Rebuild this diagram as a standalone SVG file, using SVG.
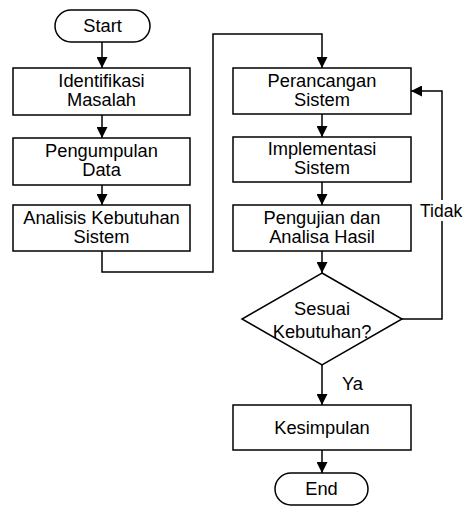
<svg xmlns="http://www.w3.org/2000/svg" width="463" height="507" viewBox="0 0 463 507">
<style>
.n{fill:#fff;stroke:#000;stroke-width:1.5}
.c{fill:none;stroke:#000;stroke-width:1.5}
text{font-family:"Liberation Sans",Arial,sans-serif;font-size:18.3px;fill:#000;text-anchor:middle}
.l{text-anchor:start}
</style>
<defs>
<marker id="a" viewBox="0 0 10 10" refX="10" refY="5" markerWidth="11" markerHeight="11" markerUnits="userSpaceOnUse" orient="auto">
<path d="M0,0 L10,5 L0,10 Z" fill="#000"/>
</marker>
</defs>
<g id="connectors">
<path class="c" d="M102,42 V68" marker-end="url(#a)"/>
<path class="c" d="M102,115 V138" marker-end="url(#a)"/>
<path class="c" d="M102,185 V205" marker-end="url(#a)"/>
<path class="c" d="M102,251 V272 H213 V34 H322 V68" marker-end="url(#a)"/>
<path class="c" d="M322,114 V137" marker-end="url(#a)"/>
<path class="c" d="M322,182 V205" marker-end="url(#a)"/>
<path class="c" d="M322,251 V273" marker-end="url(#a)"/>
<path class="c" d="M402,319 H442 V91 H411" marker-end="url(#a)"/>
<path class="c" d="M322,365 V405" marker-end="url(#a)"/>
<path class="c" d="M322,450 V473" marker-end="url(#a)"/>
<rect x="420" y="200" width="43" height="21" fill="#fff"/>
<text class="l" x="420" y="217" style="font-size:17.5px">Tidak</text>
<text class="l" x="342" y="390">Ya</text>
</g>
<g id="start"><rect class="n" x="55" y="10" width="95" height="32" rx="16"/><text x="102.5" y="32">Start</text></g>
<g id="identifikasi"><rect class="n" x="13" y="68" width="177" height="47"/><text x="101.5" y="87">Identifikasi</text><text x="101.5" y="106">Masalah</text></g>
<g id="pengumpulan"><rect class="n" x="13" y="138" width="177" height="47"/><text x="101.5" y="157">Pengumpulan</text><text x="101.5" y="176">Data</text></g>
<g id="analisis"><rect class="n" x="13" y="205" width="177" height="46"/><text x="101.5" y="224">Analisis Kebutuhan</text><text x="101.5" y="243">Sistem</text></g>
<g id="perancangan"><rect class="n" x="233" y="68" width="178" height="46"/><text x="322" y="87">Perancangan</text><text x="322" y="106">Sistem</text></g>
<g id="implementasi"><rect class="n" x="233" y="137" width="178" height="45"/><text x="322" y="155">Implementasi</text><text x="322" y="174">Sistem</text></g>
<g id="pengujian"><rect class="n" x="233" y="205" width="178" height="46"/><text x="322" y="224">Pengujian dan</text><text x="322" y="243">Analisa Hasil</text></g>
<g id="sesuai"><polygon class="n" points="322,273 402,319 322,365 242,319"/><text x="322" y="315">Sesuai</text><text x="322" y="338">Kebutuhan?</text></g>
<g id="kesimpulan"><rect class="n" x="233" y="405" width="178" height="45"/><text x="322" y="434">Kesimpulan</text></g>
<g id="end"><rect class="n" x="275" y="473" width="93" height="32" rx="16"/><text x="321.5" y="495">End</text></g>
</svg>
